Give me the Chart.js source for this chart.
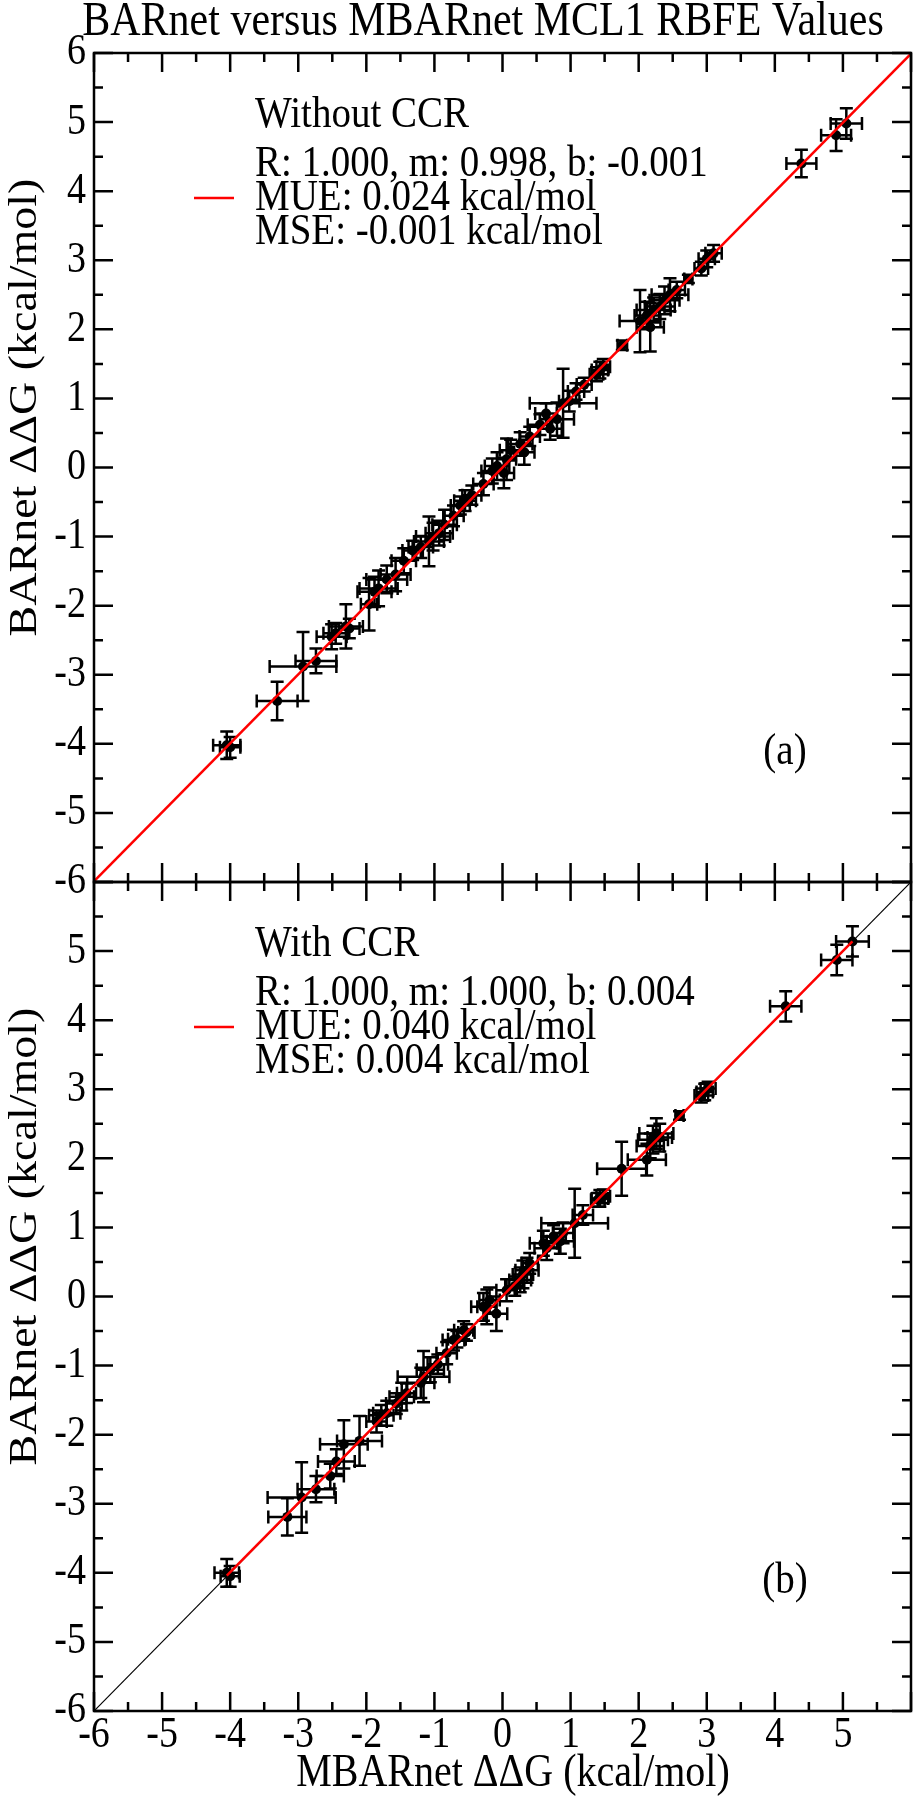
<!DOCTYPE html>
<html>
<head>
<meta charset="utf-8">
<script src="https://cdn.jsdelivr.net/npm/chart.js@4.4.1/dist/chart.umd.min.js"></script>
<style>
  html, body { margin: 0; padding: 0; background: #fff; }
  #wrap { position: relative; width: 920px; height: 1800px; overflow: hidden; }
  canvas { position: absolute; left: 0; }
  #top { top: 0; }
  #bot { top: 860px; }
</style>
</head>
<body>
<div id="wrap">
  <canvas id="top" width="920" height="900"></canvas>
  <canvas id="bot" width="920" height="940"></canvas>
</div>
<script>
const FONT = '"Liberation Serif", "Times New Roman", serif';
const STRETCH = 1.15; // the source figure's lettering is taller than it is wide

// axis ticks (kcal/mol)
const tickValues = [-6, -5, -4, -3, -2, -1, 0, 1, 2, 3, 4, 5, 6];

// (a) without cycle closure correction: MBARnet (x) vs BARnet (y)
const woX  = [-4.05, -4.00, -3.31, -2.93, -2.74, -2.51, -2.45, -2.30, -2.25, -1.96, -1.88, -1.82, -1.70, -1.57, -1.45, -1.32, -1.20, -1.08, -1.02, -0.93, -0.85, -0.72, -0.62, -0.55, -0.45, -0.28, -0.15, -0.08, 0.02, 0.06, 0.12, 0.26, 0.32, 0.40, 0.55, 0.64, 0.70, 0.80, 0.89, 0.98, 1.08, 1.20, 1.38, 1.43, 1.48, 1.76, 2.02, 2.12, 2.17, 2.22, 2.31, 2.38, 2.46, 2.56, 2.73, 2.92, 3.00, 3.10, 4.39, 4.90, 5.05];
const woY  = [-4.02, -4.05, -3.38, -2.88, -2.80, -2.45, -2.40, -2.30, -2.33, -1.98, -1.80, -1.75, -1.62, -1.55, -1.35, -1.20, -1.15, -1.07, -1.00, -0.95, -0.83, -0.70, -0.55, -0.48, -0.40, -0.24, -0.05, 0.02, -0.08, 0.12, 0.25, 0.34, 0.22, 0.45, 0.62, 0.78, 0.56, 0.70, 0.93, 0.96, 1.10, 1.20, 1.35, 1.41, 1.46, 1.77, 2.12, 2.20, 2.03, 2.28, 2.33, 2.42, 2.50, 2.57, 2.73, 2.88, 3.02, 3.10, 4.40, 4.81, 4.98];
const woXe = [0.20, 0.15, 0.30, 0.49, 0.30, 0.22, 0.18, 0.25, 0.15, 0.12, 0.25, 0.28, 0.30, 0.22, 0.18, 0.15, 0.18, 0.22, 0.25, 0.20, 0.18, 0.15, 0.14, 0.16, 0.14, 0.15, 0.16, 0.18, 0.15, 0.14, 0.16, 0.18, 0.15, 0.15, 0.18, 0.16, 0.17, 0.25, 0.49, 0.15, 0.12, 0.11, 0.10, 0.12, 0.10, 0.07, 0.30, 0.18, 0.20, 0.25, 0.22, 0.22, 0.27, 0.12, 0.06, 0.10, 0.12, 0.12, 0.22, 0.22, 0.23];
const woYe = [0.20, 0.15, 0.28, 0.50, 0.18, 0.18, 0.15, 0.32, 0.14, 0.38, 0.22, 0.26, 0.20, 0.24, 0.18, 0.14, 0.16, 0.36, 0.20, 0.18, 0.22, 0.15, 0.13, 0.15, 0.14, 0.16, 0.18, 0.20, 0.22, 0.30, 0.15, 0.17, 0.18, 0.14, 0.15, 0.15, 0.16, 0.24, 0.50, 0.15, 0.12, 0.10, 0.10, 0.12, 0.11, 0.07, 0.45, 0.20, 0.35, 0.18, 0.18, 0.20, 0.24, 0.12, 0.06, 0.10, 0.12, 0.12, 0.20, 0.23, 0.22];
const woFitX = [-6, 6];
const woFitY = [-5.99, 5.99];
const woStats = ['R: 1.000, m: 0.998, b: -0.001', 'MUE: 0.024 kcal/mol', 'MSE: -0.001 kcal/mol'];

// (b) with cycle closure correction
const wX  = [-4.05, -4.00, -3.16, -2.95, -2.74, -2.53, -2.44, -2.33, -2.10, -1.85, -1.78, -1.70, -1.56, -1.48, -1.41, -1.20, -1.16, -1.06, -0.95, -0.82, -0.72, -0.67, -0.57, -0.53, -0.28, -0.23, -0.09, -0.19, 0.06, 0.18, 0.26, 0.30, 0.36, 0.40, 0.60, 0.65, 0.75, 0.85, 0.89, 1.06, 1.18, 1.40, 1.43, 1.48, 1.75, 2.12, 2.17, 2.21, 2.26, 2.31, 2.60, 2.92, 2.97, 3.02, 4.16, 4.91, 5.14];
const wY  = [-4.00, -4.05, -3.19, -2.91, -2.79, -2.60, -2.39, -2.14, -2.09, -1.81, -1.72, -1.69, -1.55, -1.45, -1.40, -1.25, -1.16, -1.06, -0.98, -0.82, -0.63, -0.62, -0.49, -0.52, -0.15, -0.15, -0.25, -0.05, 0.09, 0.15, 0.24, 0.32, 0.38, 0.48, 0.77, 0.70, 0.87, 0.80, 0.92, 1.06, 1.18, 1.40, 1.42, 1.45, 1.85, 1.98, 2.18, 2.27, 2.36, 2.30, 2.62, 2.91, 2.96, 3.01, 4.20, 4.87, 5.14];
const wXe = [0.18, 0.14, 0.28, 0.50, 0.27, 0.20, 0.27, 0.35, 0.33, 0.15, 0.18, 0.20, 0.15, 0.18, 0.14, 0.20, 0.38, 0.20, 0.15, 0.15, 0.16, 0.13, 0.14, 0.12, 0.18, 0.14, 0.16, 0.15, 0.15, 0.14, 0.16, 0.15, 0.17, 0.12, 0.20, 0.18, 0.18, 0.20, 0.15, 0.49, 0.15, 0.10, 0.12, 0.10, 0.36, 0.28, 0.20, 0.22, 0.25, 0.18, 0.06, 0.10, 0.12, 0.11, 0.23, 0.23, 0.24];
const wYe = [0.20, 0.15, 0.27, 0.51, 0.19, 0.18, 0.18, 0.35, 0.36, 0.16, 0.15, 0.18, 0.15, 0.20, 0.14, 0.22, 0.37, 0.18, 0.14, 0.16, 0.15, 0.12, 0.13, 0.12, 0.20, 0.25, 0.25, 0.18, 0.16, 0.14, 0.18, 0.20, 0.18, 0.15, 0.18, 0.17, 0.16, 0.18, 0.15, 0.50, 0.14, 0.10, 0.12, 0.10, 0.39, 0.23, 0.18, 0.20, 0.22, 0.20, 0.06, 0.10, 0.12, 0.10, 0.22, 0.22, 0.22];
const wFitX = [-4.05, 5.14];
const wFitY = [-4.04, 5.14];
const wStats = ['R: 1.000, m: 1.000, b: 0.004', 'MUE: 0.040 kcal/mol', 'MSE: 0.004 kcal/mol'];

const diagX = [-6, 6];
const diagY = [-6, 6];

const toPts = (xs, ys) => xs.map((v, i) => ({ x: v, y: ys[i] }));

// text with the tall letter shape of the source figure
function tallText(ctx, text, x, y, align, size, rotate) {
  ctx.save();
  ctx.font = size + 'px ' + FONT;
  ctx.textAlign = align;
  ctx.textBaseline = 'middle';
  ctx.fillStyle = '#000';
  ctx.translate(x, y);
  if (rotate) {
    ctx.rotate(-Math.PI / 2);
    ctx.scale(STRETCH, 1);
  } else {
    ctx.scale(1, STRETCH);
  }
  ctx.fillText(text, 0, 0);
  ctx.restore();
}

// error bars drawn through the chart scales
const errorBars = {
  id: 'errorBars',
  beforeDatasetsDraw(chart) {
    const { ctx, scales: { x, y } } = chart;
    chart.data.datasets.forEach(ds => {
      if (!ds.xErr) return;
      ctx.save();
      ctx.strokeStyle = '#000';
      ctx.lineWidth = 2.5;
      const cap = 6.5;
      ds.data.forEach((p, i) => {
        const px = x.getPixelForValue(p.x), py = y.getPixelForValue(p.y);
        const x0 = x.getPixelForValue(p.x - ds.xErr[i]), x1 = x.getPixelForValue(p.x + ds.xErr[i]);
        const y0 = y.getPixelForValue(p.y - ds.yErr[i]), y1 = y.getPixelForValue(p.y + ds.yErr[i]);
        ctx.beginPath();
        ctx.moveTo(x0, py); ctx.lineTo(x1, py);
        ctx.moveTo(x0, py - cap); ctx.lineTo(x0, py + cap);
        ctx.moveTo(x1, py - cap); ctx.lineTo(x1, py + cap);
        ctx.moveTo(px, y0); ctx.lineTo(px, y1);
        ctx.moveTo(px - cap, y0); ctx.lineTo(px + cap, y0);
        ctx.moveTo(px - cap, y1); ctx.lineTo(px + cap, y1);
        ctx.stroke();
      });
      ctx.restore();
    });
  }
};

// box frame with inward ticks on every side, plus tick labels
const frameTicks = {
  id: 'frameTicks',
  afterDatasetsDraw(chart, args, o) {
    const { ctx, chartArea: a, scales: { x, y } } = chart;
    ctx.save();
    ctx.strokeStyle = '#000';
    ctx.lineWidth = 2.5;
    ctx.beginPath();
    const marks = [];
    tickValues.forEach((v, i) => {
      marks.push([v, 19]);
      if (i < tickValues.length - 1) marks.push([(v + tickValues[i + 1]) / 2, 9]);
    });
    marks.forEach(([v, len]) => {
      const px = x.getPixelForValue(v), py = y.getPixelForValue(v);
      ctx.moveTo(px, a.top); ctx.lineTo(px, a.top + len);
      ctx.moveTo(px, a.bottom); ctx.lineTo(px, a.bottom - len);
      ctx.moveTo(a.left, py); ctx.lineTo(a.left + len, py);
      ctx.moveTo(a.right, py); ctx.lineTo(a.right - len, py);
    });
    ctx.stroke();
    ctx.strokeRect(a.left, a.top, a.right - a.left, a.bottom - a.top);
    ctx.restore();

    tickValues.forEach(v => {
      if (o.hideTop && v === 6) return;
      tallText(ctx, String(v), a.left - 8, y.getPixelForValue(v), 'right', 38);
    });
    if (o.showX) {
      tickValues.forEach(v => {
        if (v === 6) return;
        tallText(ctx, String(v), x.getPixelForValue(v), a.bottom + 25, 'center', 38);
      });
      tallText(ctx, 'MBARnet ΔΔG (kcal/mol)', 513, a.bottom + 63, 'center', 40);
    }
    tallText(ctx, 'BARnet ΔΔG (kcal/mol)', 25, (a.top + a.bottom) / 2 - 60, 'center', 40, true);
  }
};

// title, legend block and panel tag
const textLayer = {
  id: 'textLayer',
  afterDraw(chart, args, o) {
    const { ctx, chartArea: a } = chart;
    if (o.title) tallText(ctx, o.title, 483, 22, 'center', 42);
    tallText(ctx, o.heading, 255, a.top + 62, 'left', 39);
    o.stats.forEach((s, i) => tallText(ctx, s, 255, a.top + 111 + i * 34, 'left', 39));
    ctx.save();
    ctx.strokeStyle = 'red';
    ctx.lineWidth = 2.5;
    ctx.beginPath();
    ctx.moveTo(194, a.top + 145);
    ctx.lineTo(234, a.top + 145);
    ctx.stroke();
    ctx.restore();
    tallText(ctx, o.panel, 785, a.top + 699, 'center', 39);
  }
};

function makePanel(id, cfg) {
  const datasets = [
    {
      type: 'scatter',
      data: toPts(cfg.xs, cfg.ys),
      xErr: cfg.xe,
      yErr: cfg.ye,
      backgroundColor: '#000',
      borderWidth: 0,
      pointRadius: 5,
      order: 1
    },
    {
      type: 'line',
      data: toPts(cfg.fitX, cfg.fitY),
      borderColor: '#ff0000',
      borderWidth: 2.5,
      pointRadius: 0,
      fill: false,
      order: 0
    }
  ];
  if (cfg.diag) {
    datasets.push({
      type: 'line',
      data: toPts(diagX, diagY),
      borderColor: '#000',
      borderWidth: 1.2,
      pointRadius: 0,
      fill: false,
      order: 2
    });
  }

  return new Chart(document.getElementById(id), {
    type: 'scatter',
    data: { datasets },
    options: {
      responsive: false,
      animation: false,
      devicePixelRatio: 1,
      layout: { padding: cfg.padding },
      scales: {
        x: {
          type: 'linear',
          min: -6,
          max: 6,
          grid: { display: false, drawTicks: false },
          border: { display: false },
          ticks: { display: false, stepSize: 1 },
          afterFit: s => { s.height = cfg.xHeight; }
        },
        y: {
          type: 'linear',
          min: -6,
          max: 6,
          grid: { display: false, drawTicks: false },
          border: { display: false },
          ticks: { display: false, stepSize: 1 },
          afterFit: s => { s.width = 94; }
        }
      },
      plugins: {
        legend: { display: false },
        tooltip: { enabled: false },
        frameTicks: { showX: cfg.showX, hideTop: cfg.hideTop },
        textLayer: cfg.text
      }
    },
    plugins: [errorBars, frameTicks, textLayer]
  });
}

makePanel('top', {
  xs: woX, ys: woY, xe: woXe, ye: woYe,
  fitX: woFitX, fitY: woFitY,
  diag: false,
  showX: false,
  hideTop: false,
  xHeight: 0,
  padding: { left: 0, right: 9, top: 53, bottom: 18 },
  text: {
    title: 'BARnet versus MBARnet MCL1 RBFE Values',
    heading: 'Without CCR',
    stats: woStats,
    panel: '(a)'
  }
});

makePanel('bot', {
  xs: wX, ys: wY, xe: wXe, ye: wYe,
  fitX: wFitX, fitY: wFitY,
  diag: true,
  showX: true,
  hideTop: true,
  xHeight: 89,
  padding: { left: 0, right: 9, top: 22, bottom: 0 },
  text: {
    heading: 'With CCR',
    stats: wStats,
    panel: '(b)'
  }
});
</script>
</body>
</html>
